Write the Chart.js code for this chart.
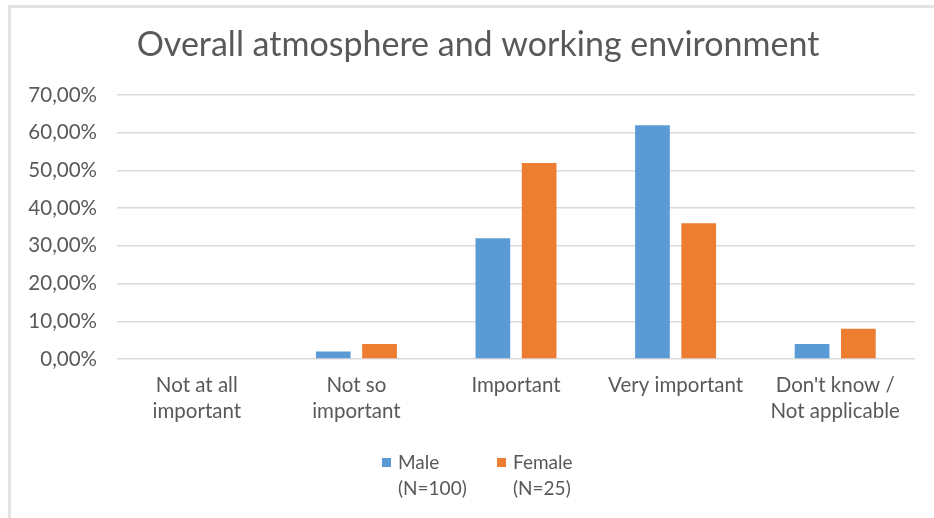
<!DOCTYPE html>
<html>
<head>
<meta charset="utf-8">
<script src="https://cdn.jsdelivr.net/npm/chart.js@4"></script>
<style>
  html, body { margin: 0; padding: 0; background: #fff; }
  #wrap { position: relative; width: 934px; height: 518px; }
  #frame { position: absolute; left: 8px; top: 5px; right: -4px; bottom: -4px; border: 3px solid #e3e3e3; }
  canvas { position: absolute; left: 0; top: 0; }
</style>
</head>
<body>
<div id="wrap">
  <div id="frame"></div>
  <canvas id="chart" width="934" height="518"></canvas>
</div>
<script>
const categories = [['Not at all', 'important'], ['Not so', 'important'], 'Important', 'Very important', ["Don't know /", 'Not applicable']]
const male = [0, 2, 32, 62, 4]
const female = [0, 4, 52, 36, 8]
const seriesLabels = [['Male', '(N=100)'], ['Female', '(N=25)']]
const colors = ['#5b9bd5', '#ed7d31']
const yTicks = { min: 0, max: 70, step: 10 }
const titleText = 'Overall atmosphere and working environment'

const FONT = 'Lato, "Open Sans", sans-serif'
const TEXT = '#595959'

// title sits a bit right of the canvas centre, as in the original
const titleAndLegend = {
  id: 'titleAndLegend',
  afterDraw(chart) {
    const ctx = chart.ctx
    ctx.save()
    ctx.font = '34px ' + FONT
    ctx.fillStyle = TEXT
    ctx.textAlign = 'center'
    ctx.textBaseline = 'middle'
    ctx.fillText(titleText, 478, 45)

    // legend drawn under the axis, labels over two lines
    const items = [
      { x: 382, label: seriesLabels[0], color: colors[0] },
      { x: 497, label: seriesLabels[1], color: colors[1] }
    ]
    ctx.font = '19px ' + FONT
    ctx.textAlign = 'left'
    items.forEach(it => {
      ctx.fillStyle = it.color
      ctx.fillRect(it.x, 458, 9, 9)
      ctx.fillStyle = TEXT
      it.label.forEach((line, i) => ctx.fillText(line, it.x + 16, 463 + i * 26))
    })
    ctx.restore()
  }
}

new Chart(document.getElementById('chart'), {
  type: 'bar',
  data: {
    labels: categories,
    datasets: [
      { label: 'Male', data: male, backgroundColor: colors[0], categoryPercentage: 0.58, barPercentage: 0.75 },
      { label: 'Female', data: female, backgroundColor: colors[1], categoryPercentage: 0.58, barPercentage: 0.75 }
    ]
  },
  options: {
    responsive: false,
    animation: false,
    layout: { padding: { left: 20, right: 19, top: 95, bottom: 79 } },
    plugins: {
      legend: { display: false },
      tooltip: { enabled: false },
      title: { display: false }
    },
    scales: {
      y: {
        min: yTicks.min, max: yTicks.max,
        ticks: {
          stepSize: yTicks.step, color: TEXT, padding: 20,
          font: { family: FONT, size: 20.5 },
          callback: v => v.toFixed(2).replace('.', ',') + '%'
        },
        grid: { color: '#d9d9d9', lineWidth: 1.5, drawTicks: false },
        border: { display: false },
        afterFit: s => { s.width = 97 }
      },
      x: {
        ticks: {
          color: TEXT, padding: 5, autoSkip: false, maxRotation: 0,
          font: { family: FONT, size: 20.5, lineHeight: 1.27 }
        },
        grid: { display: false },
        border: { display: false },
        afterFit: s => { s.height = 80 }
      }
    }
  },
  plugins: [titleAndLegend]
})
</script>
</body>
</html>
